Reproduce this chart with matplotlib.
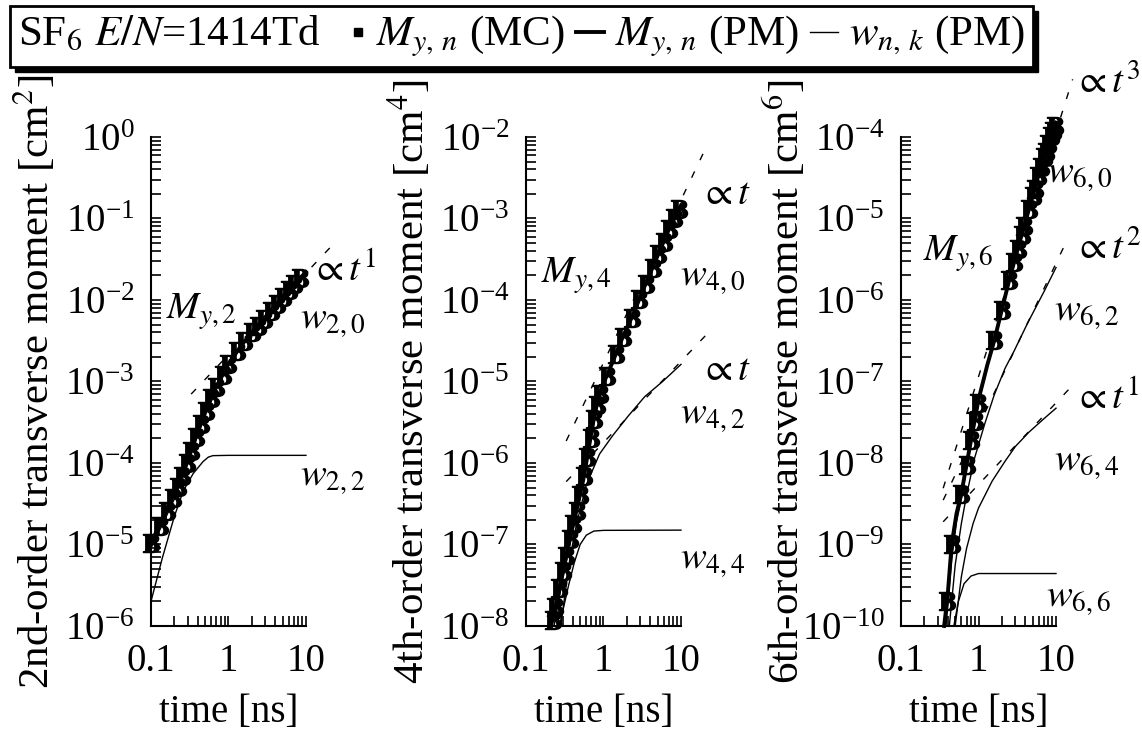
import numpy as np
import matplotlib
matplotlib.use('Agg')
import matplotlib.pyplot as plt
from matplotlib.lines import Line2D
from matplotlib.patches import Rectangle
from matplotlib.offsetbox import TextArea, DrawingArea, HPacker, AnchoredOffsetbox
from matplotlib.ticker import LogLocator, LogFormatterMathtext, NullFormatter

plt.rcParams['font.family'] = ['Liberation Serif', 'DejaVu Serif']
plt.rcParams['mathtext.fontset'] = 'stix'
plt.rcParams['font.size'] = 28

# ---- 2nd order ----
t_mc2 = [0.10, 0.13, 0.16, 0.19, 0.22, 0.25, 0.29, 0.33, 0.38, 0.44, 0.51, 0.60, 0.70,
         0.85, 1.0, 1.3, 1.6, 2.0, 2.4, 2.9, 3.5, 4.2, 5.0, 6.0, 7.1, 8.4]
m2_mc = [1.05e-5, 1.7e-5, 2.6e-5, 3.7e-5, 5.1e-5, 7.0e-5, 1.0e-4, 1.4e-4, 2.1e-4, 3.0e-4,
         4.4e-4, 6.2e-4, 8.6e-4, 1.2e-3, 1.65e-3, 2.35e-3, 3.1e-3, 4.0e-3, 4.8e-3, 5.9e-3,
         7.3e-3, 9.0e-3, 1.08e-2, 1.31e-2, 1.57e-2, 1.84e-2]
t_pm2 = [0.1, 0.15, 0.2, 0.25, 0.3, 0.4, 0.5, 0.7, 1.0, 1.5, 2, 3, 4, 5, 7, 10]
m2_pm = [1.05e-5, 2.3e-5, 4.2e-5, 7.1e-5, 1.12e-4, 2.4e-4, 4.2e-4, 8.7e-4, 1.65e-3,
         2.85e-3, 4.0e-3, 6.2e-3, 8.5e-3, 1.1e-2, 1.55e-2, 2.2e-2]
w20 = [9.0e-6, 2.0e-5, 3.6e-5, 6.1e-5, 9.8e-5, 2.15e-4, 3.85e-4, 8.2e-4, 1.58e-3,
       2.78e-3, 3.93e-3, 6.1e-3, 8.4e-3, 1.09e-2, 1.54e-2, 2.19e-2]
t_w22 = [0.1, 0.14, 0.2, 0.26, 0.35, 0.47, 0.55, 0.63, 1.0, 10]
w22 = [2.0e-6, 6.8e-6, 2.2e-5, 4.5e-5, 7.4e-5, 1.04e-4, 1.18e-4, 1.23e-4, 1.24e-4, 1.24e-4]
t_fit2 = [0.33, 21]
fit2 = [7.0e-4, 4.5e-2]

# ---- 4th order ----
t_mc4 = [0.22, 0.24, 0.27, 0.30, 0.33, 0.37, 0.41, 0.45, 0.50, 0.56, 0.62, 0.68, 0.75,
         0.82, 0.90, 1.1, 1.45, 1.8, 2.3, 2.9, 3.5, 4.3, 5.1, 6.0, 7.0, 8.2, 9.5]
m4_mc = [1.2e-8, 1.7e-8, 2.9e-8, 4.7e-8, 7.2e-8, 1.17e-7, 1.8e-7, 2.6e-7, 4.1e-7,
         6.9e-7, 1.2e-6, 2.0e-6, 3.5e-6, 5.1e-6, 7.1e-6, 1.17e-5, 2.2e-5, 3.5e-5,
         6.0e-5, 1.02e-4, 1.58e-4, 2.5e-4, 3.7e-4, 5.2e-4, 7.4e-4, 1.0e-3, 1.32e-3]
t_pm4 = [0.21, 0.25, 0.3, 0.35, 0.4, 0.47, 0.55, 0.65, 0.75, 0.85, 1.0, 1.3, 1.7, 2.4,
         3.5, 5.0, 7.0, 10]
m4_pm = [1.0e-8, 2.0e-8, 4.7e-8, 9.3e-8, 1.66e-7, 3.2e-7, 6.3e-7, 1.58e-6, 3.5e-6,
         6.0e-6, 9.5e-6, 1.7e-5, 3.2e-5, 6.6e-5, 1.58e-4, 3.5e-4, 7.4e-4, 1.45e-3]
t_w40 = [0.23, 0.3, 0.4, 0.5, 0.65, 0.85, 1.0, 1.3, 1.7, 2.4, 3.5, 5, 7, 10]
w40 = [1.0e-8, 3.9e-8, 1.45e-7, 3.8e-7, 1.45e-6, 5.6e-6, 9.0e-6, 1.65e-5, 3.1e-5,
       6.5e-5, 1.56e-4, 3.47e-4, 7.35e-4, 1.44e-3]
t_w42 = [0.28, 0.37, 0.45, 0.6, 0.89, 1.33, 2.1, 3.4, 5.8, 10]
w42 = [1.0e-8, 6.9e-8, 1.8e-7, 5.4e-7, 1.29e-6, 2.2e-6, 3.8e-6, 6.5e-6, 1.0e-5, 1.62e-5]
t_w44 = [0.27, 0.35, 0.42, 0.5, 0.6, 0.75, 1.0, 10]
w44 = [1.0e-8, 3.0e-8, 6.0e-8, 1.0e-7, 1.3e-7, 1.46e-7, 1.49e-7, 1.5e-7]
t_fit4a = [0.33, 21]
fit4a = [1.86e-6, 7.4e-3]
t_fit4b = [0.33, 21]
fit4b = [5.9e-7, 3.7e-5]

# ---- 6th order ----
t_mc6 = [0.39, 0.45, 0.6, 0.7, 0.8, 0.89, 0.98, 1.6, 2.0, 2.5, 2.9, 3.2, 3.6, 3.9, 4.5,
         5.0, 5.3, 5.9, 6.4, 7.0, 7.4, 8.0, 8.6, 9.1, 9.6]
m6_mc = [2.0e-10, 1.0e-9, 4.2e-9, 9.5e-9, 1.9e-8, 3.3e-8, 5.4e-8, 3.2e-7, 7.6e-7, 1.78e-6,
         2.95e-6, 4.2e-6, 6.2e-6, 8.1e-6, 1.32e-5, 1.9e-5, 2.3e-5, 3.3e-5, 4.3e-5, 5.6e-5,
         6.6e-5, 8.3e-5, 1.02e-4, 1.17e-4, 1.35e-4]
t_pm6 = [0.36, 0.40, 0.45, 0.52, 0.6, 0.7, 0.8, 1.0, 1.3, 1.6, 2.0, 2.5, 3.2, 4.0, 5.0,
         6.0, 7.0, 8.0, 9.0, 10]
m6_pm = [1.0e-10, 2.4e-10, 1.0e-9, 2.4e-9, 4.2e-9, 9.5e-9, 1.9e-8, 6.0e-8, 1.6e-7, 3.2e-7,
         7.6e-7, 1.78e-6, 4.2e-6, 8.9e-6, 1.9e-5, 3.5e-5, 5.6e-5, 8.3e-5, 1.15e-4, 1.5e-4]
t_w60 = [0.38, 0.45, 0.52, 0.6, 0.7, 0.8, 1.0, 1.3, 1.6, 2.0, 2.5, 3.2, 4, 5, 6, 7, 8, 9, 10]
w60 = [1.0e-10, 6.5e-10, 1.9e-9, 3.6e-9, 8.4e-9, 1.7e-8, 5.5e-8, 1.5e-7, 3.0e-7, 7.3e-7,
       1.72e-6, 4.1e-6, 8.7e-6, 1.87e-5, 3.45e-5, 5.55e-5, 8.2e-5, 1.14e-4, 1.49e-4]
t_w62 = [0.42, 0.5, 0.6, 0.7, 0.89, 1.2, 1.6, 2.2, 2.9, 4.3, 7.1, 10]
w62 = [1.0e-10, 5.6e-10, 1.8e-9, 4.0e-9, 1.15e-8, 3.0e-8, 6.9e-8, 1.45e-7, 2.4e-7,
       5.2e-7, 1.3e-6, 2.5e-6]
t_w64 = [0.5, 0.6, 0.7, 0.85, 1.0, 1.5, 2.2, 3.0, 4.5, 7.0, 10]
w64 = [1.0e-10, 4.0e-10, 8.9e-10, 1.8e-9, 2.8e-9, 6.0e-9, 1.05e-8, 1.6e-8, 2.4e-8,
       3.5e-8, 4.7e-8]
t_w66 = [0.48, 0.55, 0.65, 0.8, 1.0, 10]
w66 = [1.0e-10, 2.0e-10, 3.3e-10, 4.1e-10, 4.4e-10, 4.4e-10]
t_fit6a = [0.35, 16.4]
fit6a = [4.9e-9, 5.1e-4]
t_fit6b = [0.35, 12.5]
fit6b = [3.5e-9, 4.4e-6]
t_fit6c = [0.35, 17]
fit6c = [1.9e-9, 9.3e-8]

ylabels = ['2nd-order transverse moment [cm$^2$]',
           '4th-order transverse moment [cm$^4$]',
           '6th-order transverse moment [cm$^6$]']
ylims = [(1e-6, 1e0), (1e-8, 1e-2), (1e-10, 1e-4)]

fig = plt.figure(figsize=(11.42, 7.38), dpi=100)

lefts = [0.1322, 0.4606, 0.7890]
axes = []
for i, l in enumerate(lefts):
    ax = fig.add_axes([l, 0.1518, 0.1357, 0.6626])
    ax.set_xscale('log')
    ax.set_yscale('log')
    ax.set_xlim(0.1, 10)
    ax.set_ylim(*ylims[i])
    for s in ['top', 'right']:
        ax.spines[s].set_visible(False)
    for s in ['left', 'bottom']:
        ax.spines[s].set_linewidth(1.5)
    ax.set_xticks([0.1, 1, 10], ['0.1', '1', '10'])
    ax.xaxis.set_minor_locator(LogLocator(base=10, subs=np.arange(2, 10), numticks=100))
    ax.xaxis.set_minor_formatter(NullFormatter())
    ax.yaxis.set_major_locator(LogLocator(base=10, numticks=100))
    ax.yaxis.set_major_formatter(LogFormatterMathtext())
    ax.yaxis.set_minor_locator(LogLocator(base=10, subs=np.arange(2, 10), numticks=100))
    ax.yaxis.set_minor_formatter(NullFormatter())
    ax.tick_params(which='both', direction='in', length=7, width=1.2, top=False, right=False)
    ax.tick_params(axis='y', which='major', pad=12)
    ax.tick_params(axis='x', which='major', pad=12)
    ax.set_xlabel('time [ns]', labelpad=10)
    fig.text(l - 0.102, 0.1518 + 0.6626 / 2, ylabels[i], rotation=90,
             ha='center', va='center', fontsize=31)
    axes.append(ax)

thick = dict(color='black', lw=2.8, clip_on=False)
thin = dict(color='black', lw=1.0, clip_on=False)
dash = dict(color='black', lw=1.0, ls=(0, (5, 9)), clip_on=False)
mk = dict(ls='none', marker=r'$\mathbf{B}$', ms=13, color='black', clip_on=False)

ax = axes[0]
ax.plot(t_fit2, fit2, **dash)
ax.plot(t_w22, w22, **thin)
ax.plot(t_pm2, w20, **thin)
ax.plot(t_pm2, m2_pm, **thick)
ax.plot(t_mc2, m2_mc, **mk)
ax.text(0.45, 10**-2.15, r'$M_{y,2}$', ha='center', va='center')
ax.text(8.4, 10**-2.25, r'$w_{2,0}$', ha='left', va='center')
ax.text(8.4, 10**-4.18, r'$w_{2,2}$', ha='left', va='center')
ax.text(11.6, 10**-1.65, r'$\propto t^1$', ha='left', va='center')

ax = axes[1]
ax.plot(t_fit4a, fit4a, **dash)
ax.plot(t_fit4b, fit4b, **dash)
ax.plot(t_w44, w44, **thin)
ax.plot(t_w42, w42, **thin)
ax.plot(t_w40, w40, **thin)
ax.plot(t_pm4, m4_pm, **thick)
ax.plot(t_mc4, m4_mc, **mk)
ax.text(0.45, 10**-3.7, r'$M_{y,4}$', ha='center', va='center')
ax.text(9.7, 10**-3.73, r'$w_{4,0}$', ha='left', va='center')
ax.text(9.7, 10**-5.42, r'$w_{4,2}$', ha='left', va='center')
ax.text(9.7, 10**-7.2, r'$w_{4,4}$', ha='left', va='center')
ax.text(17.6, 10**-2.70, r'$\propto t$', ha='left', va='center')
ax.text(17.6, 10**-4.86, r'$\propto t$', ha='left', va='center')

ax = axes[2]
ax.plot(t_fit6a, fit6a, **dash)
ax.plot(t_fit6b, fit6b, **dash)
ax.plot(t_fit6c, fit6c, **dash)
ax.plot(t_w66, w66, **thin)
ax.plot(t_w64, w64, **thin)
ax.plot(t_w62, w62, **thin)
ax.plot(t_w60, w60, **thin)
ax.plot(t_pm6, m6_pm, **thick)
ax.plot(t_mc6, m6_mc, **mk)
ax.text(0.55, 10**-5.43, r'$M_{y,6}$', ha='center', va='center')
ax.text(7.6, 10**-4.46, r'$w_{6,0}$', ha='left', va='center')
ax.text(9.5, 10**-6.15, r'$w_{6,2}$', ha='left', va='center')
ax.text(9.5, 10**-8.0, r'$w_{6,4}$', ha='left', va='center')
ax.text(7.4, 10**-9.66, r'$w_{6,6}$', ha='left', va='center')
ax.text(17.2, 10**-3.34, r'$\propto t^3$', ha='left', va='center')
ax.text(17.2, 10**-5.38, r'$\propto t^2$', ha='left', va='center')
ax.text(17.2, 10**-7.23, r'$\propto t^1$', ha='left', va='center')


# key box across the top
def txt(s):
    return TextArea(s, textprops=dict(color='black', fontsize=31))


def hline(w, lw):
    da = DrawingArea(w, 20, 0, 0)
    da.add_artist(Line2D([0, w], [10, 10], color='black', lw=lw))
    return da


sq = DrawingArea(10, 20, 0, 0)
sq.add_artist(Line2D([5], [10], marker='s', ms=6, color='black', ls='none'))
items = [txt(r'SF$_6$ $E/N$=1414Td'), DrawingArea(6, 1, 0, 0), sq,
         txt(r'$M_{y,\,n}$ (MC)'), hline(20, 2.8),
         txt(r'$M_{y,\,n}$ (PM)'), hline(20, 1.0),
         txt(r'$w_{n,\,k}$ (PM)')]
row = HPacker(children=items, align='baseline', pad=0, sep=8)
box = AnchoredOffsetbox(loc='upper left', child=row, pad=0.2, borderpad=0, frameon=True,
                        bbox_to_anchor=(10 / 1142, 1 - 6 / 738),
                        bbox_transform=fig.transFigure)
box.patch.set(facecolor='white', edgecolor='black', lw=2)
box.set_zorder(5)
fig.add_artist(box)

# offset black shadow behind the key box
fig.canvas.draw()
bb = box.get_window_extent()
inv = fig.transFigure.inverted()
(x0, y0), (x1, y1) = inv.transform([[bb.x0 + 5, bb.y0 - 5], [bb.x1 + 5, bb.y1 - 5]])
fig.add_artist(Rectangle((x0, y0), x1 - x0, y1 - y0, transform=fig.transFigure,
                         facecolor='black', edgecolor='black', zorder=4))

fig.savefig('out.png', dpi=100)
